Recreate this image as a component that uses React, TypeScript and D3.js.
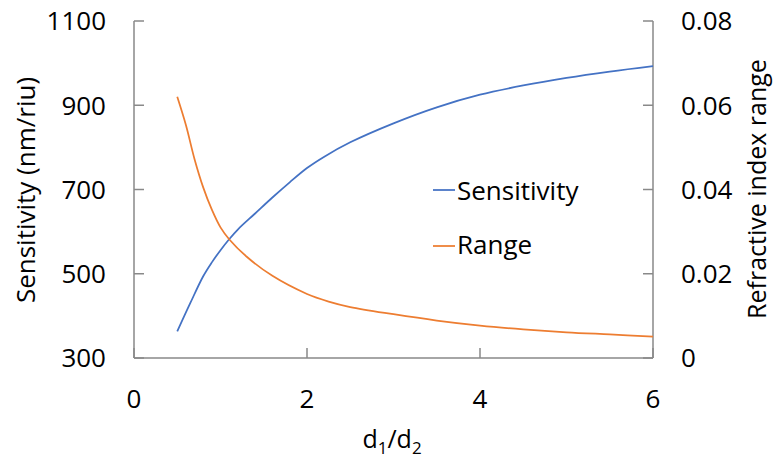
import React from 'react';
import * as d3 from 'd3';

// d1/d2 ratio where each curve was sampled
const sensX = [0.5, 0.65, 0.8, 0.9, 1.0, 1.1, 1.2, 1.4, 1.6, 1.8, 2.0, 2.2, 2.5, 3.0, 3.5, 4.0, 4.5, 5.0, 5.5, 6.0];
const sensitivity = [363, 430, 494, 527, 556, 582, 605, 643, 681, 717, 751, 778, 812, 857, 895, 925, 947, 965, 980, 993];

const rangeX = [0.5, 0.6, 0.7, 0.8, 0.9, 1.0, 1.1, 1.3, 1.6, 2.0, 2.25, 2.5, 3.0, 3.5, 4.0, 4.5, 5.0, 5.5, 6.0];
const range = [0.062, 0.0553, 0.0472, 0.0405, 0.0352, 0.031, 0.0282, 0.0241, 0.0195, 0.0152, 0.0134, 0.0121, 0.0104, 0.0089, 0.0077, 0.0068, 0.0061, 0.0056, 0.0051];

const xTicks = [0, 2, 4, 6];
const leftTicks = [300, 500, 700, 900, 1100];
const rightTicks = [0, 0.02, 0.04, 0.06, 0.08];

const W = 774;
const H = 458;
const font = '"Open Sans", sans-serif';
const axisColor = '#898989';
const blue = '#4472C4';
const orange = '#ED7D31';

export default function App() {
  const x = d3.scaleLinear().domain([0, 6]).range([134, 653]);
  const yL = d3.scaleLinear().domain([300, 1100]).range([358, 21]);
  const yR = d3.scaleLinear().domain([0, 0.08]).range([358, 21]);

  const sensLine = d3.line<number>()
    .x((d, i) => x(sensX[i]))
    .y(d => yL(d))
    .curve(d3.curveCatmullRom.alpha(0.5));
  const rangeLine = d3.line<number>()
    .x((d, i) => x(rangeX[i]))
    .y(d => yR(d))
    .curve(d3.curveCatmullRom.alpha(0.5));

  const [x0, x1] = x.range();
  const [yb, yt] = yL.range();

  return (
    <svg width={W} height={H} style={{ position: 'absolute', left: 0, top: 0, background: '#fff' }}>
      {/* axes */}
      <g stroke={axisColor} strokeWidth={1.5} fill="none">
        <line x1={x0} x2={x1} y1={yb} y2={yb} />
        <line x1={x0} x2={x0} y1={yb} y2={yt} />
        <line x1={x1} x2={x1} y1={yb} y2={yt} />
        {leftTicks.map(t => (
          <line key={'l' + t} x1={x0} x2={x0 + 10} y1={yL(t)} y2={yL(t)} />
        ))}
        {rightTicks.map(t => (
          <line key={'r' + t} x1={x1 - 10} x2={x1} y1={yR(t)} y2={yR(t)} />
        ))}
        {xTicks.map(t => (
          <line key={'x' + t} x1={x(t)} x2={x(t)} y1={yb} y2={yb - 10} />
        ))}
      </g>

      {/* tick labels */}
      <g fontFamily={font} fontSize={26} fill="#000">
        {leftTicks.map(t => (
          <text key={'lt' + t} x={106} y={yL(t)} dy="0.36em" textAnchor="end">{t}</text>
        ))}
        {rightTicks.map(t => (
          <text key={'rt' + t} x={681} y={yR(t)} dy="0.36em" textAnchor="start">{t}</text>
        ))}
        {xTicks.map(t => (
          <text key={'xt' + t} x={x(t)} y={408} textAnchor="middle">{t}</text>
        ))}
      </g>

      {/* axis titles */}
      <text fontFamily={font} fontSize={26} transform="translate(35,190) rotate(-90)" textAnchor="middle">
        Sensitivity (nm/riu)
      </text>
      <text fontFamily={font} fontSize={25} transform="translate(766,189) rotate(-90)" textAnchor="middle">
        Refractive index range
      </text>
      <text fontFamily={font} fontSize={25} x={392} y={448} textAnchor="middle">
        d<tspan fontSize={17} dy={6}>1</tspan><tspan dy={-6}>/d</tspan><tspan fontSize={17} dy={6}>2</tspan>
      </text>

      {/* curves */}
      <path d={sensLine(sensitivity) || ''} fill="none" stroke={blue} strokeWidth={1.75} />
      <path d={rangeLine(range) || ''} fill="none" stroke={orange} strokeWidth={1.75} />

      {/* legend */}
      <g fontFamily={font} fontSize={26}>
        <line x1={433} x2={455} y1={190} y2={190} stroke={blue} strokeWidth={1.75} />
        <text x={457} y={191} dy="0.36em">Sensitivity</text>
        <line x1={433} x2={455} y1={246} y2={246} stroke={orange} strokeWidth={1.75} />
        <text x={457} y={245} dy="0.36em">Range</text>
      </g>
    </svg>
  );
}
